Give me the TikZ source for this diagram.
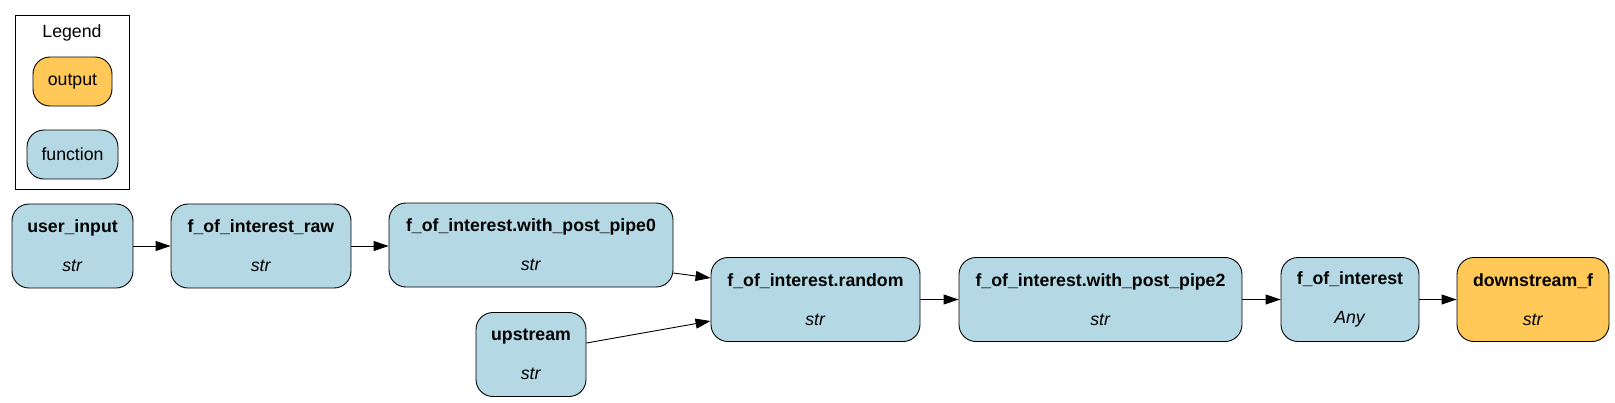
\documentclass[tikz,border=0pt]{standalone}
\usepackage{fontspec}
\setmainfont{Liberation Sans}
\usetikzlibrary{arrows.meta}
\definecolor{fnblue}{HTML}{B4D8E4}
\definecolor{outgold}{HTML}{FFC857}
\tikzset{
  fnbox/.style={draw=black, line width=0.9pt, fill=fnblue, rounded corners=17pt,
    align=center, minimum height=84pt, inner sep=0pt,
    font=\fontsize{17.7}{39}\selectfont},
  outbox/.style={fnbox, fill=outgold},
  legbox/.style={draw=black, line width=0.9pt, rounded corners=17pt,
    minimum height=49pt, inner sep=0pt, font=\fontsize{17.7}{21}\selectfont},
  flow/.style={line width=0.9pt, -{Triangle[length=15pt, width=10pt]}}
}
\newcommand{\fnlabel}[2]{\textbf{#1}\\\textit{#2}}
\begin{document}
\begin{tikzpicture}[x=1pt, y=-1pt]
  \useasboundingbox (0,0) rectangle (1615,402);
  % legend
  \draw[line width=0.9pt] (15.5,15.5) rectangle (129,189);
  \node[font=\fontsize{17.7}{21}\selectfont] (legtitle) at (72,33) {Legend};
  \node[legbox, fill=outgold, minimum width=79pt] (legout) at (72.5,81.5) {output};
  \node[legbox, fill=fnblue, minimum width=91pt] (legfn) at (72.5,154.5) {function};

  % top row
  \node[fnbox, minimum width=121pt] (userinput) at (72.5,246) {\fnlabel{user\_input}{str}};
  \node[fnbox, minimum width=180pt] (raw) at (261,246) {\fnlabel{f\_of\_interest\_raw}{str}};
  \node[fnbox, minimum width=284pt] (pipe0) at (531,245) {\fnlabel{f\_of\_interest.with\_post\_pipe0}{str}};
  \node[fnbox, minimum width=110pt] (upstream) at (531,354.5) {\fnlabel{upstream}{str}};

  % main row
  \node[fnbox, minimum width=209pt] (random) at (815.5,299.5) {\fnlabel{f\_of\_interest.random}{str}};
  \node[fnbox, minimum width=283pt] (pipe2) at (1100.5,299.5) {\fnlabel{f\_of\_interest.with\_post\_pipe2}{str}};
  \node[fnbox, minimum width=138pt] (foi) at (1350,299.5) {\fnlabel{f\_of\_interest}{Any}};
  \node[outbox, minimum width=152pt] (downstream) at (1533,299.5) {\fnlabel{downstream\_f}{str}};

  % edges
  \draw[flow] (userinput) -- (raw);
  \draw[flow] (raw.east) -- (pipe0.west |- raw.east);
  \draw[flow] ([yshift=-28pt]pipe0.east) -- ([yshift=21.5pt]random.west);
  \draw[flow] ([yshift=11.5pt]upstream.east) -- ([yshift=-21.5pt]random.west);
  \draw[flow] (random) -- (pipe2);
  \draw[flow] (pipe2) -- (foi);
  \draw[flow] (foi) -- (downstream);
\end{tikzpicture}
\end{document}
